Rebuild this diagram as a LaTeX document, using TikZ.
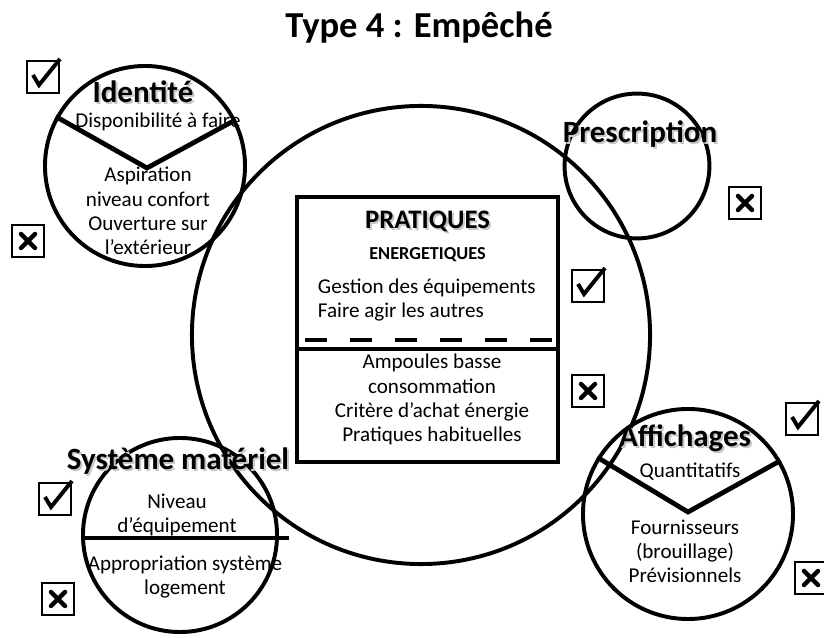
\documentclass[tikz,border=0pt]{standalone}
\usepackage{fontspec}
\setmainfont{Carlito}
\usetikzlibrary{positioning,calc}

\tikzset{
  ring/.style={circle, draw, line width=2.8pt, inner sep=0pt},
  vline/.style={line width=3.4pt, line join=miter},
  heading/.style={font=\bfseries\fontsize{22}{26}\selectfont, anchor=base},
  hshadow/.style={heading, text=black!22},
  body/.style={font=\fontsize{15}{17.4}\selectfont, align=center, anchor=base},
  okbox/.pic={
    \node[draw, line width=2pt, minimum size=0.8cm, inner sep=0pt] (-b) at (0,0) {};
    \draw[line width=2.8pt] (-10,-2) -- (-4,8) -- (17,-18);
  },
  nobox/.pic={
    \node[draw, line width=2pt, minimum size=0.8cm, inner sep=0pt] (-b) at (0,0) {};
    \draw[line width=3.2pt, line cap=round] (-7,-7) -- (7,7) (7,-7) -- (-7,7);
  }
}

\begin{document}
\begin{tikzpicture}[x=0.025cm, y=-0.025cm]
\useasboundingbox (0,0) rectangle (824,635);

% title
\node[font=\bfseries\fontsize{26}{30}\selectfont, anchor=base] (title) at (419,38) {Type 4 : Empêché};

% circles
\node[ring, minimum size=11.45cm] (prat) at (421,335) {};
\node[ring, minimum size=5cm] (ident) at (145,166) {};
\node[ring, minimum size=3.62cm] (presc) at (637,166) {};
\node[ring, minimum size=4.85cm] (sys) at (180,535) {};
\node[ring, minimum size=5.25cm] (affi) at (688,514) {};

% central box
\node[draw, line width=2.8pt, minimum width=6.525cm, minimum height=6.625cm] (box) at (427.5,329.5) {};
\draw[line width=3.5pt, dash pattern=on 16pt off 16pt] ($(box.west)+(10,10.5)$) -- ($(box.east)+(-4,10.5)$);
\draw[line width=2.8pt] ($(box.west)+(0,19.5)$) -- ($(box.east)+(0,19.5)$);

\node[font=\bfseries\fontsize{19}{22}\selectfont, anchor=base, text=black!22] (pratsh) at (429.5,231) {PRATIQUES};
\node[font=\bfseries\fontsize{19}{22}\selectfont, anchor=base] (pratit) at (427.5,229) {PRATIQUES};
\node[font=\bfseries\fontsize{13}{16}\selectfont, anchor=base] (energ) at (427.5,260) {ENERGETIQUES};
\node[body, align=left, anchor=base west] (gest) at (313,318) {Gestion des équipements\\Faire agir les autres};
\node[body] (ampo) at (432,442) {Ampoules basse\\consommation\\Critère d’achat énergie\\Pratiques habituelles};

% split lines
\draw[vline] (ident.151) -- ($(ident.center)+(2,2)$) -- (ident.27);
\draw[vline] (affi.148) -- ($(affi.center)+(0,-2)$) -- (affi.30);
\draw[line width=3.4pt] ($(sys.west)+(0,3)$) -- ($(sys.east)+(10,3)$);

% headings
\node[hshadow] (identsh) at (145,105) {Identité};
\node[heading] (identit) at (143,103) {Identité};
\node[hshadow] (prescsh) at (642,145) {Prescription};
\node[heading] (prescit) at (640,143) {Prescription};
\node[hshadow] (affish) at (687,449) {Affichages};
\node[heading] (affiit) at (685,447) {Affichages};
\node[hshadow] (syssh) at (180,472) {Système matériel};
\node[heading] (sysit) at (178,470) {Système matériel};

% circle texts
\node[body] (dispo) at (158,128) {Disponibilité à faire};
\node[body] (aspi) at (148,255) {Aspiration\\niveau confort\\Ouverture sur\\l’extérieur};
\node[body] (niveau) at (177,533) {Niveau\\d'équipement};
\node[body] (appro) at (185,595) {Appropriation système\\logement};
\node[body] (quanti) at (690,478) {Quantitatifs};
\node[body] (fourn) at (685,583) {Fournisseurs\\(brouillage)\\Prévisionnels};

% check boxes
\pic (identok) at (43,77) {okbox};
\pic (identno) at (28,241) {nobox};
\pic (prescno) at (745,203) {nobox};
\pic (pratok) at (588,286) {okbox};
\pic (pratno) at (588,391) {nobox};
\pic (sysok) at (55,499) {okbox};
\pic (sysno) at (58,599) {nobox};
\pic (affiok) at (802,419) {okbox};
\pic (affino) at (811,578) {nobox};
\end{tikzpicture}
\end{document}
